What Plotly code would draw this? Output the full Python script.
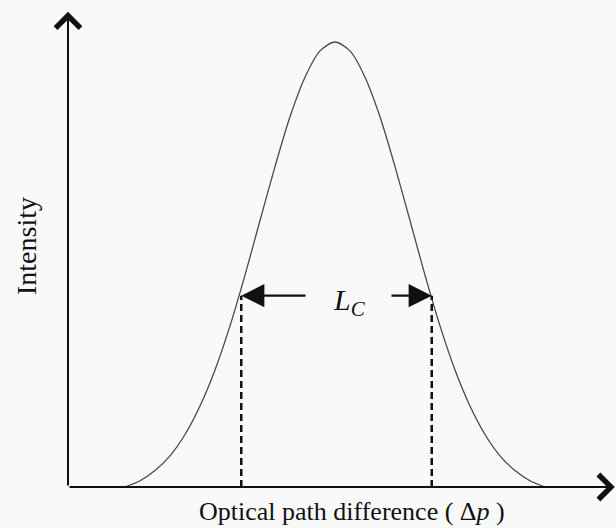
import plotly.graph_objects as go

# Optical path difference (in units of the envelope width) and normalised intensity
opd = [-2.8, -2.6, -2.4, -2.2, -2.0, -1.8, -1.6, -1.4, -1.2, -1.0, -0.8, -0.6, -0.4, -0.2,
       0.0, 0.2, 0.4, 0.6, 0.8, 1.0, 1.2, 1.4, 1.6, 1.8, 2.0, 2.2, 2.4, 2.6, 2.8]
intensity = [0.0, 0.014, 0.037, 0.070, 0.118, 0.182, 0.263, 0.362, 0.476, 0.599, 0.720,
             0.832, 0.921, 0.980, 1.0, 0.980, 0.921, 0.832, 0.720, 0.599, 0.476, 0.362,
             0.263, 0.182, 0.118, 0.070, 0.037, 0.014, 0.0]

# Edges of the coherence length L_C and the level where they meet the envelope
lc_edges = [-1.25, 1.29]
lc_level = 0.43
lc_label = "<i>L</i><sub><i>C</i></sub>"

x_title = "Optical path difference ( Δ<i>p</i> )"
y_title = "Intensity"

X_RANGE = [-4.4667, 3.7467]
Y_RANGE = [-0.0921, 1.0944]
AXIS_X0 = -3.56
AXIS_X1 = 3.73
AXIS_Y1 = 1.068

SERIF = "Liberation Serif, Times New Roman, serif"
INK = "#111111"

fig = go.Figure()

fig.add_trace(go.Scatter(
    x=opd, y=intensity, mode="lines",
    line=dict(color="#4a4a4a", width=1.3, shape="spline", smoothing=0.8),
    hoverinfo="skip", showlegend=False,
))

# dashed verticals marking the coherence-length edges
for xe in lc_edges:
    fig.add_trace(go.Scatter(
        x=[xe, xe], y=[0, lc_level], mode="lines",
        line=dict(color=INK, width=2.5, dash="7px,4px"),
        hoverinfo="skip", showlegend=False,
    ))

annotations = []

# axis arrows (open chevron heads)
for tip, tail in (((AXIS_X1, 0), (AXIS_X0, 0)), ((AXIS_X0, AXIS_Y1), (AXIS_X0, 0))):
    annotations.append(dict(
        x=tip[0], y=tip[1], ax=tail[0], ay=tail[1],
        xref="x", yref="y", axref="x", ayref="y",
        text="", showarrow=True, arrowhead=4, arrowsize=2.4, arrowwidth=2,
        arrowcolor=INK, standoff=0, startstandoff=0,
    ))

# L_C double arrow, split around its label
annotations.append(dict(
    x=lc_edges[0], y=lc_level, ax=-0.373, ay=lc_level,
    xref="x", yref="y", axref="x", ayref="y",
    text="", showarrow=True, arrowhead=2, arrowsize=2.1, arrowwidth=2.2,
    arrowcolor=INK, standoff=0,
))
annotations.append(dict(
    x=lc_edges[1], y=lc_level, ax=0.733, ay=lc_level,
    xref="x", yref="y", axref="x", ayref="y",
    text="", showarrow=True, arrowhead=2, arrowsize=2.1, arrowwidth=2.2,
    arrowcolor=INK, standoff=0,
))
annotations.append(dict(
    x=0.19, y=lc_level - 0.015, xref="x", yref="y",
    text=lc_label, showarrow=False,
    font=dict(family=SERIF, size=30, color=INK),
    xanchor="center", yanchor="middle",
))

# axis titles
annotations.append(dict(
    x=352 / 616, y=1 - 511 / 528, xref="paper", yref="paper",
    text=x_title, showarrow=False,
    font=dict(family=SERIF, size=26, color=INK),
    xanchor="center", yanchor="middle",
))
annotations.append(dict(
    x=27 / 616, y=1 - 246 / 528, xref="paper", yref="paper",
    text=y_title, showarrow=False, textangle=-90,
    font=dict(family=SERIF, size=28, color=INK),
    xanchor="center", yanchor="middle",
))

fig.update_layout(
    width=616, height=528,
    margin=dict(l=0, r=0, t=0, b=0),
    paper_bgcolor="#f9f9f9", plot_bgcolor="#f9f9f9",
    xaxis=dict(range=X_RANGE, visible=False, fixedrange=True),
    yaxis=dict(range=Y_RANGE, visible=False, fixedrange=True),
    annotations=annotations,
    showlegend=False,
)

fig.write_html("out.html")
